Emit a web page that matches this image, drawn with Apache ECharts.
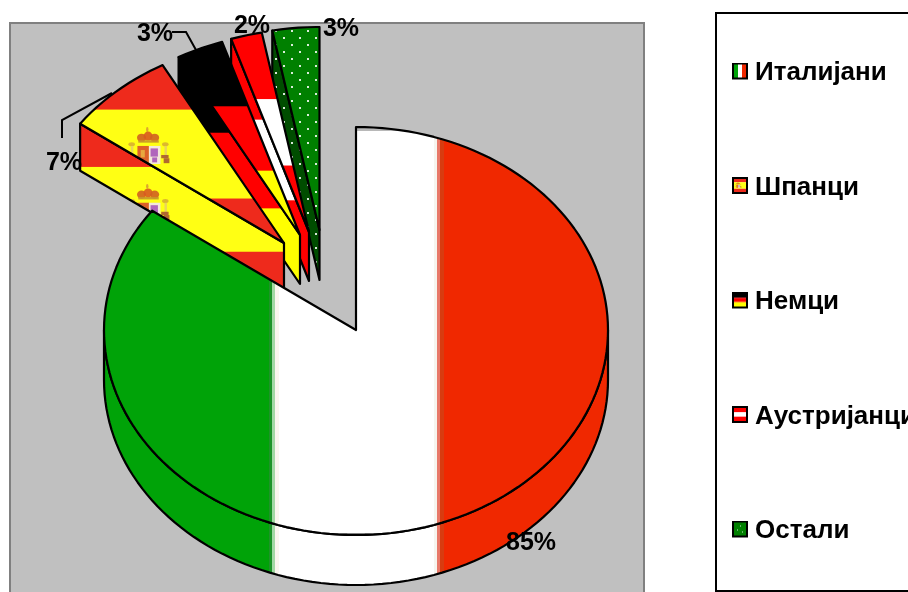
<!DOCTYPE html>
<html>
<head>
<meta charset="utf-8">
<style>html,body{margin:0;padding:0;background:#fff;overflow:hidden}#chart{width:908px;height:592px}</style>
<script src="https://cdn.jsdelivr.net/npm/echarts@6/dist/echarts.min.js"></script>
</head>
<body>
<div id="chart"></div>
<script>
// Tourist shares by nationality
const categories = ['Италијани', 'Шпанци', 'Немци', 'Аустријанци', 'Остали'];
const percentValues = [85, 7, 3, 2, 3];

// Disc geometry of the tilted pie
const pieCentre = [356, 330];
const radiusX = 252;
const radiusYBack = 203;
const radiusYFront = 205;
const canvasW = 908;
const canvasH = 592;
const explodeLayout = [
  { dx: 0, dy: 0, depth: 50 },
  { dx: -72, dy: -87, depth: 47 },
  { dx: -56, dy: -95, depth: 49 },
  { dx: -47, dy: -98, depth: 49 },
  { dx: -36.5, dy: -100, depth: 50 }
];
const calloutLayout = [
  { at: [531, 543] },
  { at: [64, 163], leader: [[62, 138], [62, 120], [112, 93]] },
  { at: [155, 34], leader: [[172, 32], [186, 32], [196, 50]] },
  { at: [252, 26] },
  { at: [341, 29] }
];

function rim(t, slice) {
  const c = Math.cos(t);
  return [
    pieCentre[0] + slice.dx + radiusX * Math.sin(t),
    pieCentre[1] + slice.dy - (c > 0 ? radiusYBack : radiusYFront) * c
  ];
}

function boundsOf(points) {
  const xs = points.map(p => p[0]);
  const ys = points.map(p => p[1]);
  const x = Math.min(...xs), y = Math.min(...ys);
  return { x, y, w: Math.max(...xs) - x, h: Math.max(...ys) - y };
}

function newCanvas(w, h) {
  const c = document.createElement('canvas');
  c.width = w;
  c.height = h;
  return c;
}

function bands(ctx, b, stops, colours) {
  colours.forEach((col, i) => {
    const a = i ? stops[i - 1] : 0;
    const z = i < stops.length ? stops[i] : 1;
    ctx.fillStyle = col;
    ctx.fillRect(0, b.y + a * b.h, canvasW, (z - a) * b.h + 1);
  });
}

// Spanish coat of arms, centred on (cx, cy)
function emblem(ctx, cx, cy, k) {
  ctx.save();
  ctx.translate(cx, cy);
  ctx.scale(k, k);
  const blob = (col, x, y, rx, ry) => {
    ctx.fillStyle = col;
    ctx.beginPath();
    ctx.ellipse(x, y, rx, ry, 0, 0, Math.PI * 2);
    ctx.fill();
  };
  ctx.globalAlpha = 0.9;
  // pillars
  blob('#d8b030', -20, -7, 4, 2.5);
  blob('#d8b030', 21, -7, 4, 2.5);
  ctx.fillStyle = '#e8d060';
  ctx.fillRect(-21, -5, 3, 19);
  ctx.fillRect(20, -5, 3, 19);
  ctx.fillStyle = '#a85a30';
  ctx.fillRect(16, 6, 9, 4);
  ctx.fillRect(19, 10, 7, 6);
  ctx.fillStyle = '#c9a050';
  ctx.fillRect(-24, 6, 6, 4);
  // crown
  blob('#d8a030', -1, -25, 1.5, 3);
  blob('#d06020', -8, -15, 5.5, 5);
  blob('#d85a20', 0, -17, 5.5, 5.5);
  blob('#d06020', 8, -15, 5.5, 5);
  ctx.fillStyle = '#c8962a';
  ctx.fillRect(-12, -12, 25, 3);
  // shield
  ctx.fillStyle = '#d8502a';
  ctx.fillRect(-13, -5, 14, 22);
  ctx.fillStyle = '#e8b040';
  ctx.fillRect(-9, 0, 5, 9);
  ctx.fillStyle = '#f2e6f0';
  ctx.fillRect(1, -5, 14, 22);
  ctx.fillStyle = '#a858b8';
  ctx.fillRect(3, -2, 9, 10);
  ctx.fillRect(5, 9, 6, 6);
  ctx.restore();
}

function dotTile(base) {
  const tile = newCanvas(16, 14);
  const ctx = tile.getContext('2d');
  ctx.fillStyle = base;
  ctx.fillRect(0, 0, 16, 14);
  ctx.fillStyle = 'rgba(255,255,255,0.85)';
  ctx.fillRect(3, 2, 2, 2);
  ctx.fillRect(11, 9, 2, 2);
  return tile;
}

// One painter per category; each receives the bounding box of the face it covers
const facePainters = [
  (ctx, b, wall) => {
    const third = b.w / 3;
    const left = b.x + third, right = b.x + 2 * third;
    ctx.fillStyle = '#00a308';
    ctx.fillRect(0, 0, left, canvasH);
    ctx.fillStyle = '#fff';
    ctx.fillRect(left, 0, third, canvasH);
    ctx.fillStyle = '#f02800';
    ctx.fillRect(right, 0, canvasW, canvasH);
    ctx.fillStyle = '#1e9428'; ctx.fillRect(left - 3, 0, 3, canvasH);
    ctx.fillStyle = '#a4d8a4'; ctx.fillRect(left, 0, 3, canvasH);
    ctx.fillStyle = '#fbf6ee'; ctx.fillRect(left + 3, 0, 4, canvasH);
    ctx.fillStyle = '#f6f4ee'; ctx.fillRect(right - 6, 0, 3, canvasH);
    ctx.fillStyle = '#e87868'; ctx.fillRect(right - 3, 0, 3, canvasH);
    ctx.fillStyle = '#d83c10'; ctx.fillRect(right, 0, 4, canvasH);
    if (!wall) {
      // The flag stops just short of the disc edge at the far and near extremes
      ctx.fillStyle = '#b8b8b8'; ctx.fillRect(0, b.y, canvasW, 4);
      ctx.fillStyle = '#808080'; ctx.fillRect(0, b.y + b.h - 2, canvasW, 3);
    }
  },
  (ctx, b, wall) => {
    bands(ctx, b, wall ? [0.26, 0.77] : [0.25, 0.75], ['#ee2a1c', '#ffff14', '#ee2a1c']);
    emblem(ctx, b.x + b.w / 3, b.y + b.h / 2 - (wall ? 0 : 4), 0.82);
  },
  (ctx, b) => bands(ctx, b, [1 / 3, 2 / 3], ['#000', '#ff0000', '#ffff00']),
  (ctx, b) => bands(ctx, b, [1 / 3, 2 / 3], ['#ff0000', '#fff', '#ff0000']),
  (ctx, b, wall) => {
    ctx.fillStyle = ctx.createPattern(dotTile(wall ? '#004d00' : '#008000'), 'repeat');
    ctx.fillRect(0, 0, canvasW, canvasH);
  }
];

function faceFill(index, points, wall) {
  const canvas = newCanvas(canvasW, canvasH);
  facePainters[index](canvas.getContext('2d'), boundsOf(points), wall);
  return { image: canvas, repeat: 'no-repeat' };
}

const outline = { stroke: '#000', lineWidth: 2.2, lineJoin: 'round' };
const STEP = Math.PI / 90;

function renderSlice(params, api) {
  const index = params.seriesIndex;
  const total = percentValues.reduce((s, v) => s + v, 0);
  const before = percentValues.slice(0, index).reduce((s, v) => s + v, 0);
  const value = api.value(0);
  const start = before / total * Math.PI * 2;
  const end = (before + value) / total * Math.PI * 2;
  const slice = explodeLayout[index];
  const apex = [pieCentre[0] + slice.dx, pieCentre[1] + slice.dy];
  const down = p => [p[0], p[1] + slice.depth];

  const arc = [];
  for (let t = start; t < end; t += STEP) arc.push(rim(t, slice));
  arc.push(rim(end, slice));
  const face = [apex].concat(arc);

  // The side wall: the radial cut on exploded slices, the front rim on the main one
  let wall;
  if (index === 0) {
    const front = [];
    for (let t = Math.PI / 2; t <= Math.PI * 1.5 + 1e-6; t += STEP) front.push(rim(t, slice));
    wall = front.concat(front.slice().reverse().map(down));
  } else {
    const corner = rim(start, slice);
    wall = [corner, apex, down(apex), down(corner)];
  }

  const callout = calloutLayout[index];
  const children = [
    { type: 'polygon', shape: { points: wall }, style: Object.assign({ fill: faceFill(index, wall, true) }, outline) },
    { type: 'polygon', shape: { points: face }, style: Object.assign({ fill: faceFill(index, face, false) }, outline) }
  ];
  if (callout.leader) {
    children.push({ type: 'polyline', shape: { points: callout.leader }, style: { fill: null, stroke: '#000', lineWidth: 2 } });
  }
  children.push({
    type: 'text',
    style: {
      text: value + '%', x: callout.at[0], y: callout.at[1],
      fill: '#000', align: 'center', verticalAlign: 'middle',
      font: 'bold 25px "Liberation Sans", Arial, sans-serif'
    }
  });
  return { type: 'group', children };
}

// Legend swatches: a 16x17 flag, with clear margins that set it against the label
function swatch(index) {
  const w = 16, h = 17;
  const c = newCanvas(18, 21);
  const ctx = c.getContext('2d');
  const inner = { x: 2, y: 2, w: 12, h: 13 };
  if (index === 0) {
    [['#00a308', 2], ['#fff', 6], ['#f02800', 10]].forEach(([col, x]) => {
      ctx.fillStyle = col;
      ctx.fillRect(x, 2, 4, 13);
    });
  } else if (index === 4) {
    ctx.fillStyle = '#008000';
    ctx.fillRect(2, 2, 12, 13);
    ctx.fillStyle = '#cfe6cf';
    ctx.fillRect(8, 5, 1, 1);
    ctx.fillRect(5, 9, 1, 1);
    ctx.fillRect(10, 11, 1, 1);
  } else {
    const stops = index === 1 ? [0.25, 0.75] : [1 / 3, 2 / 3];
    const cols = [null, ['#ee2a1c', '#ffff14', '#ee2a1c'], ['#000', '#ff0000', '#ffff00'], ['#ff0000', '#fff', '#ff0000']][index];
    cols.forEach((col, i) => {
      const a = i ? stops[i - 1] : 0;
      const z = i < 2 ? stops[i] : 1;
      ctx.fillStyle = col;
      ctx.fillRect(inner.x, inner.y + a * inner.h, inner.w, (z - a) * inner.h);
    });
    if (index === 1) emblem(ctx, 6, 8.5, 0.13);
  }
  ctx.strokeStyle = '#000';
  ctx.lineWidth = 2;
  ctx.strokeRect(1, 1, w - 2, h - 2);
  return 'image://' + c.toDataURL();
}

const chart = echarts.init(document.getElementById('chart'), null, { renderer: 'canvas' });
chart.setOption({
  animation: false,
  backgroundColor: '#fff',
  graphic: [{
    type: 'rect', z: -1, silent: true,
    shape: { x: 10, y: 23, width: 634, height: 575 },
    style: { fill: '#c0c0c0', stroke: '#808080', lineWidth: 2 }
  }],
  legend: {
    orient: 'vertical',
    left: 716,
    top: 13,
    height: 540,
    padding: [47, 240, 47, 16],
    borderColor: '#000',
    borderWidth: 2,
    itemWidth: 18,
    itemHeight: 21,
    itemGap: 88.5,
    selectedMode: false,
    textStyle: { color: '#000', fontWeight: 'bold', fontSize: 26, lineHeight: 24, fontFamily: '"Liberation Sans", Arial, sans-serif' },
    data: categories.map((name, i) => ({ name, icon: swatch(i) }))
  },
  series: categories.map((name, i) => ({
    type: 'custom',
    name,
    coordinateSystem: 'none',
    silent: true,
    z: 10 - i,
    data: [[percentValues[i]]],
    renderItem: renderSlice
  }))
});
</script>
</body>
</html>
